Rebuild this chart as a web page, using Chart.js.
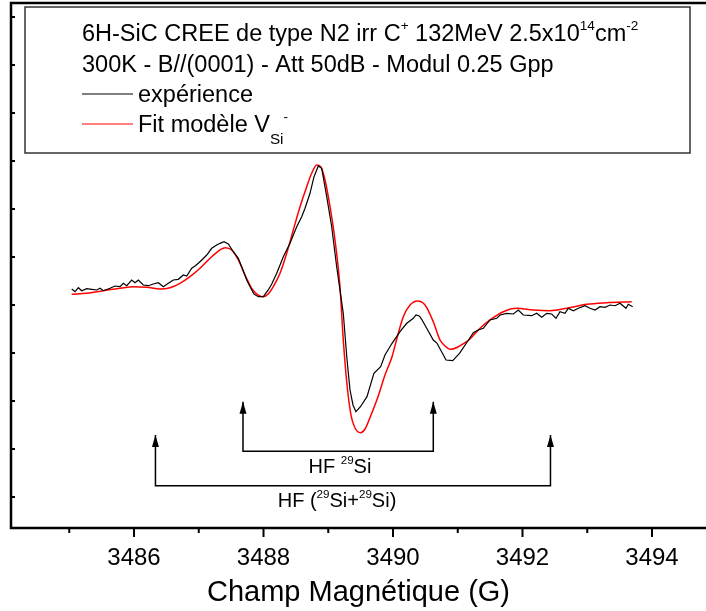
<!DOCTYPE html>
<html>
<head>
<title>RPE 6H-SiC irr C+</title>
<script src="https://cdn.jsdelivr.net/npm/chart.js"></script>
<style>
  body { margin: 0; background: #fff; }
  canvas { display: block; }
</style>
</head>
<body>
<canvas id="rpeChart" width="706" height="611"></canvas>
<script>
// experience (trace noire)
const expField = [3485.038,3485.089,3485.140,3485.192,3485.269,3485.347,3485.424,3485.475,3485.526,3485.629,
  3485.707,3485.784,3485.835,3485.887,3485.964,3486.015,3486.066,3486.144,3486.221,3486.298,
  3486.375,3486.453,3486.530,3486.607,3486.684,3486.761,3486.814,3486.891,3486.942,3486.993,
  3487.046,3487.123,3487.200,3487.277,3487.328,3487.390,3487.456,3487.534,3487.611,3487.663,
  3487.741,3487.792,3487.853,3487.920,3487.997,3488.074,3488.127,3488.204,3488.306,3488.409,
  3488.513,3488.590,3488.641,3488.718,3488.780,3488.846,3488.899,3488.976,3489.053,3489.130,
  3489.232,3489.290,3489.336,3489.382,3489.427,3489.497,3489.598,3489.705,3489.809,3489.876,
  3489.985,3490.108,3490.212,3490.314,3490.355,3490.406,3490.443,3490.520,3490.622,3490.680,
  3490.819,3490.922,3491.027,3491.166,3491.240,3491.317,3491.395,3491.498,3491.602,3491.653,
  3491.756,3491.858,3491.935,3492.012,3492.142,3492.219,3492.297,3492.374,3492.451,3492.517,
  3492.579,3492.656,3492.707,3492.785,3492.862,3492.965,3493.042,3493.120,3493.197,3493.274,
  3493.351,3493.429,3493.506,3493.598,3493.634,3493.702];
const expSignal = [4.333,4.277,4.360,4.298,4.340,4.327,4.313,4.348,4.298,4.348,
  4.396,4.381,4.452,4.402,4.521,4.465,4.521,4.417,4.402,4.438,
  4.465,4.381,4.452,4.521,4.535,4.625,4.604,4.765,4.813,4.869,
  4.938,5.042,5.181,5.250,5.285,5.319,5.271,5.110,4.973,4.798,
  4.521,4.381,4.229,4.173,4.173,4.313,4.438,4.660,5.006,5.285,
  5.631,5.840,6.015,6.327,6.673,6.896,6.848,6.256,5.631,4.798,
  3.827,2.854,2.229,1.917,1.777,1.881,2.090,2.577,2.715,2.958,
  3.202,3.444,3.619,3.723,3.792,3.771,3.702,3.515,3.271,3.202,
  2.854,2.840,2.994,3.271,3.423,3.479,3.515,3.688,3.723,3.792,
  3.827,3.813,3.896,3.792,3.777,3.827,3.744,3.827,3.813,3.723,
  3.860,3.827,3.931,3.881,3.931,3.985,3.931,3.896,3.965,3.952,
  4.000,3.985,4.035,3.931,4.015,3.965];

// fit modele V_Si- (trace rouge)
const fitField = [3485.038,3485.269,3485.526,3485.784,3485.989,3486.196,3486.402,3486.556,3486.710,3486.865,
  3487.019,3487.174,3487.302,3487.410,3487.509,3487.611,3487.714,3487.818,3487.920,3487.997,
  3488.074,3488.151,3488.255,3488.358,3488.460,3488.564,3488.667,3488.744,3488.822,3488.883,
  3488.950,3489.027,3489.104,3489.181,3489.232,3489.290,3489.351,3489.413,3489.497,3489.568,
  3489.660,3489.768,3489.876,3489.985,3490.062,3490.159,3490.263,3490.381,3490.494,3490.622,
  3490.726,3490.803,3490.888,3490.988,3491.097,3491.189,3491.344,3491.498,3491.703,3491.911,
  3492.167,3492.425,3492.683,3492.992,3493.300,3493.687];
const fitSignal = [4.223,4.244,4.298,4.348,4.381,4.369,4.333,4.360,4.452,4.590,
  4.765,4.973,5.125,5.194,5.146,4.938,4.625,4.348,4.208,4.173,
  4.229,4.381,4.660,5.077,5.563,6.048,6.465,6.744,6.917,6.881,
  6.604,6.048,5.354,4.381,3.271,2.333,1.708,1.438,1.340,1.417,
  1.708,2.090,2.542,2.923,3.313,3.756,4.000,4.083,4.000,3.652,
  3.271,3.146,3.077,3.115,3.202,3.292,3.515,3.688,3.860,3.931,
  3.896,3.881,3.931,4.015,4.048,4.069];

// axes
const xTicks = [3485, 3486, 3487, 3488, 3489, 3490, 3491, 3492, 3493, 3494];
const xLabels = [3486, 3488, 3490, 3492, 3494];
const yTicks = [0, 1, 2, 3, 4, 5, 6, 7, 8, 9, 10];

// raies hyperfines 29Si (fleches)
const hfSingle = [3487.683, 3490.622];
const hfSingleLevels = [1.985, 0.952]; // pointe, barre
const hfDouble = [3486.331, 3492.432];
const hfDoubleLevels = [1.292, 0.235];
const hfSingleText = [3489.18, 0.49];
const hfDoubleText = [3489.135, -0.215];

const FONT = '"Liberation Sans", Arial, sans-serif';

function bracket(pos, lv) {
  return [{x: pos[0], y: lv[0]}, {x: pos[0], y: lv[1]}, {x: pos[1], y: lv[1]}, {x: pos[1], y: lv[0]}];
}

// texte avec exposants (1) / indices (-1)
function drawRich(ctx, parts, x, y, size, align) {
  const sz = m => m === 1 ? size * 0.58 : m === -1 ? size * 0.65 : size;
  let w = 0;
  parts.forEach(([t, m]) => { ctx.font = sz(m) + 'px ' + FONT; w += ctx.measureText(t).width; });
  let cx = align === 'center' ? x - w / 2 : x;
  parts.forEach(([t, m]) => {
    ctx.font = sz(m) + 'px ' + FONT;
    const dy = m === 1 ? -size * 0.45 : m === -1 ? size * 0.5 : 0;
    ctx.fillText(t, cx, y + dy);
    cx += ctx.measureText(t).width;
  });
}

const framePlugin = {
  id: 'frame',
  afterDraw(chart) {
    const {ctx, chartArea: a, scales: {x, y}} = chart;
    ctx.save();
    ctx.strokeStyle = '#000';
    ctx.lineWidth = 2.5;
    ctx.beginPath();
    ctx.moveTo(chart.width, a.top); ctx.lineTo(a.left, a.top);
    ctx.lineTo(a.left, a.bottom); ctx.lineTo(chart.width, a.bottom);
    ctx.stroke();

    // graduations x vers l'exterieur
    ctx.lineWidth = 2;
    ctx.beginPath();
    x.ticks.forEach(t => {
      const px = x.getPixelForValue(t.value);
      const len = xLabels.includes(t.value) ? 9 : 5;
      ctx.moveTo(px, a.bottom); ctx.lineTo(px, a.bottom + len);
    });
    // graduations y vers l'interieur
    yTicks.forEach(v => {
      const py = y.getPixelForValue(v);
      ctx.moveTo(a.left, py); ctx.lineTo(a.left + 4, py);
    });
    ctx.stroke();

    // pointes de fleches
    ctx.fillStyle = '#000';
    [2, 3].forEach(i => {
      const pts = chart.getDatasetMeta(i).data;
      [pts[0], pts[3]].forEach(p => {
        ctx.beginPath();
        ctx.moveTo(p.x, p.y);
        ctx.lineTo(p.x - 3.5, p.y + 12);
        ctx.lineTo(p.x + 3.5, p.y + 12);
        ctx.closePath();
        ctx.fill();
      });
    });

    // etiquettes HF
    ctx.textBaseline = 'alphabetic';
    drawRich(ctx, [['HF ', 0], ['29', 1], ['Si', 0]],
      x.getPixelForValue(hfSingleText[0]), y.getPixelForValue(hfSingleText[1]), 20, 'center');
    drawRich(ctx, [['HF (', 0], ['29', 1], ['Si+', 0], ['29', 1], ['Si)', 0]],
      x.getPixelForValue(hfDoubleText[0]), y.getPixelForValue(hfDoubleText[1]), 20, 'center');

    // legende
    ctx.fillStyle = '#fff';
    ctx.fillRect(25, 7, 665, 146);
    ctx.strokeStyle = '#333';
    ctx.lineWidth = 1.5;
    ctx.strokeRect(25, 7, 665, 146);
    ctx.fillStyle = '#000';
    const fs = 23.5;
    drawRich(ctx, [['6H-SiC CREE de type N2 irr C', 0], ['+', 1], [' 132MeV 2.5x10', 0], ['14', 1], ['cm', 0], ['-2', 1]], 82, 41, fs);
    drawRich(ctx, [['300K - B//(0001) - Att 50dB - Modul 0.25 Gpp', 0]], 82, 72, fs);
    drawRich(ctx, [['expérience', 0]], 138, 102, fs);
    drawRich(ctx, [['Fit modèle V', 0], ['Si', -1], ['-', 1]], 138, 132, fs);
    ctx.lineWidth = 1.2;
    ctx.strokeStyle = '#000';
    ctx.beginPath(); ctx.moveTo(82, 94); ctx.lineTo(133, 94); ctx.stroke();
    ctx.strokeStyle = '#ff0000';
    ctx.beginPath(); ctx.moveTo(82, 124); ctx.lineTo(133, 124); ctx.stroke();
    ctx.restore();
  }
};

const ctx = document.getElementById('rpeChart').getContext('2d');
new Chart(ctx, {
  type: 'line',
  data: {
    datasets: [{
      label: 'expérience',
      data: expField.map((f, i) => ({x: f, y: expSignal[i]})),
      borderColor: '#000',
      borderWidth: 1.2,
      pointRadius: 0,
      tension: 0
    }, {
      label: 'Fit modèle VSi-',
      data: fitField.map((f, i) => ({x: f, y: fitSignal[i]})),
      borderColor: '#ff0000',
      borderWidth: 1.5,
      pointRadius: 0,
      cubicInterpolationMode: 'monotone'
    }, {
      label: 'HF 29Si',
      data: bracket(hfSingle, hfSingleLevels),
      borderColor: '#000',
      borderWidth: 1.5,
      pointRadius: 0,
      tension: 0
    }, {
      label: 'HF (29Si+29Si)',
      data: bracket(hfDouble, hfDoubleLevels),
      borderColor: '#000',
      borderWidth: 1.5,
      pointRadius: 0,
      tension: 0
    }]
  },
  options: {
    responsive: false,
    animation: false,
    layout: { padding: { left: 11, top: 3, right: 0, bottom: 0 } },
    plugins: { legend: { display: false }, tooltip: { enabled: false } },
    scales: {
      x: {
        type: 'linear',
        min: 3484.1,
        max: 3494.834,
        afterBuildTicks: s => { s.ticks = xTicks.map(v => ({value: v})); },
        afterFit: s => { s.height = 83; },
        grid: { display: false, drawTicks: false },
        border: { display: false },
        ticks: {
          autoSkip: false,
          maxRotation: 0,
          padding: 16,
          color: '#000',
          font: { family: FONT, size: 24 },
          callback: v => xLabels.includes(v) ? String(v) : ''
        },
        title: {
          display: true,
          text: 'Champ Magnétique (G)',
          color: '#000',
          font: { family: FONT, size: 29 },
          padding: { top: 0, bottom: 0.6 }
        }
      },
      y: { type: 'linear', display: false, min: -0.646, max: 10.292 }
    }
  },
  plugins: [framePlugin]
});
</script>
</body>
</html>
